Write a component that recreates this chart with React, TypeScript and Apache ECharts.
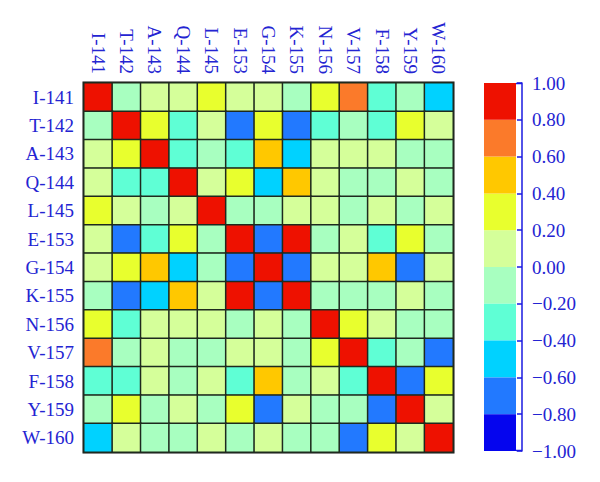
import React, { useEffect, useRef } from "react";
import * as echarts from "echarts";

const residues = [
  "I-141", "T-142", "A-143", "Q-144", "L-145", "E-153", "G-154",
  "K-155", "N-156", "V-157", "F-158", "Y-159", "W-160",
];

// correlation matrix (rows / columns follow residues)
const corr: number[][] = [
  [1.0, -0.1, 0.1, 0.1, 0.3, 0.1, 0.1, -0.1, 0.3, 0.7, -0.3, -0.1, -0.5],
  [-0.1, 1.0, 0.3, -0.3, 0.1, -0.7, 0.3, -0.7, -0.3, -0.1, -0.3, 0.3, 0.1],
  [0.1, 0.3, 1.0, -0.3, -0.1, -0.3, 0.5, -0.5, 0.1, 0.1, 0.1, -0.1, -0.1],
  [0.1, -0.3, -0.3, 1.0, 0.1, 0.3, -0.5, 0.5, 0.1, -0.1, -0.1, 0.1, -0.1],
  [0.3, 0.1, -0.1, 0.1, 1.0, -0.1, -0.1, 0.1, 0.1, -0.1, 0.1, -0.1, 0.1],
  [0.1, -0.7, -0.3, 0.3, -0.1, 1.0, -0.7, 0.9, -0.1, 0.1, -0.3, 0.3, -0.1],
  [0.1, 0.3, 0.5, -0.5, -0.1, -0.7, 1.0, -0.7, 0.1, 0.1, 0.5, -0.7, 0.1],
  [-0.1, -0.7, -0.5, 0.5, 0.1, 0.9, -0.7, 1.0, -0.1, -0.1, -0.1, 0.1, -0.1],
  [0.3, -0.3, 0.1, 0.1, 0.1, -0.1, 0.1, -0.1, 1.0, 0.3, 0.1, -0.1, -0.1],
  [0.7, -0.1, 0.1, -0.1, -0.1, 0.1, 0.1, -0.1, 0.3, 1.0, -0.3, -0.1, -0.7],
  [-0.3, -0.3, 0.1, -0.1, 0.1, -0.3, 0.5, -0.1, 0.1, -0.3, 1.0, -0.7, 0.3],
  [-0.1, 0.3, -0.1, 0.1, -0.1, 0.3, -0.7, 0.1, -0.1, -0.1, -0.7, 1.0, 0.1],
  [-0.5, 0.1, -0.1, -0.1, 0.1, -0.1, 0.1, -0.1, -0.1, -0.7, 0.3, 0.1, 1.0],
];

// colour bins from -1 to 1, step 0.2
const binEdges = [-1.0, -0.8, -0.6, -0.4, -0.2, 0.0, 0.2, 0.4, 0.6, 0.8, 1.0];
const binColors = [
  "#0505ee", "#2279ff", "#00d2ff", "#5fffd5", "#a8ffc0",
  "#d5ff9a", "#e8ff2e", "#ffc800", "#fb7a2a", "#ee1100",
];

const TXT = "#2424d2";
const FONT = "Liberation Serif";

export default function App() {
  const ref = useRef<HTMLDivElement>(null);
  useEffect(() => {
    if (!ref.current) return;
    const chart = echarts.init(ref.current, null, { renderer: "svg" });
    const cells: number[][] = [];
    corr.forEach((row, r) => row.forEach((v, c) => cells.push([c, r, v])));

    const pieces = binColors.map((color, i) => ({
      gte: binEdges[i],
      lt: i === binColors.length - 1 ? binEdges[i + 1] + 0.001 : binEdges[i + 1],
      color,
    }));

    // colour bar stacked segments
    const cbSeries = binColors.map((color, i) => {
      const lo = binEdges[i];
      const hi = binEdges[i + 1];
      const val = lo >= 0 ? hi - lo : lo - hi;
      return { i, color, val, pos: lo >= 0 };
    });
    const ordered = [
      ...cbSeries.filter((s) => s.pos),
      ...cbSeries.filter((s) => !s.pos).reverse(),
    ];

    chart.setOption({
      animation: false,
      grid: [
        { left: 84, top: 83, width: 369, height: 369, show: true, borderColor: "#111", borderWidth: 3, backgroundColor: "transparent" },
        { left: 484, top: 83, width: 32, height: 368 },
      ],
      xAxis: [
        {
          type: "category",
          gridIndex: 0,
          data: residues,
          position: "top",
          axisLine: { show: false },
          axisTick: { show: false },
          axisLabel: { rotate: 90, color: TXT, fontFamily: FONT, fontSize: 19, margin: 9 },
        },
        { type: "category", gridIndex: 1, data: ["cb"], show: false },
      ],
      yAxis: [
        {
          type: "category",
          gridIndex: 0,
          data: residues,
          inverse: true,
          axisLine: { show: false },
          axisTick: { show: false },
          axisLabel: { color: TXT, fontFamily: FONT, fontSize: 19, margin: 10 },
        },
        {
          type: "value",
          gridIndex: 1,
          min: -1,
          max: 1,
          interval: 0.2,
          position: "right",
          offset: 6,
          splitLine: { show: false },
          axisLine: { show: true, lineStyle: { color: "#1a1ae0", width: 1.5 } },
          axisTick: { show: true, inside: true, length: 5, lineStyle: { color: "#1a1ae0", width: 1.5 } },
          axisLabel: {
            color: TXT,
            fontFamily: FONT,
            fontSize: 19,
            margin: 10,
            formatter: (v: number) => (v < 0 ? "\u2212" + Math.abs(v).toFixed(2) : v.toFixed(2)),
          },
        },
      ],
      visualMap: {
        type: "piecewise",
        show: false,
        seriesIndex: 0,
        dimension: 2,
        pieces,
      },
      graphic: [
        { type: "line", shape: { x1: 516, y1: 83.5, x2: 522, y2: 83.5 }, style: { stroke: "#1a1ae0", lineWidth: 1.5 } },
        { type: "line", shape: { x1: 516, y1: 450.5, x2: 522, y2: 450.5 }, style: { stroke: "#1a1ae0", lineWidth: 1.5 } },
      ],
      series: [
        {
          type: "heatmap",
          xAxisIndex: 0,
          yAxisIndex: 0,
          data: cells,
          itemStyle: { borderColor: "#1e2a1e", borderWidth: 1.5 },
          emphasis: { disabled: true },
        },
        ...ordered.map((s) => ({
          type: "bar",
          xAxisIndex: 1,
          yAxisIndex: 1,
          stack: "cb",
          barWidth: "100%",
          data: [s.val],
          itemStyle: { color: s.color },
          silent: true,
        })),
      ],
    });
    return () => chart.dispose();
  }, []);
  return (
    <div
      ref={ref}
      style={{ position: "absolute", left: 0, top: 0, width: 600, height: 482, background: "#fff" }}
    />
  );
}
